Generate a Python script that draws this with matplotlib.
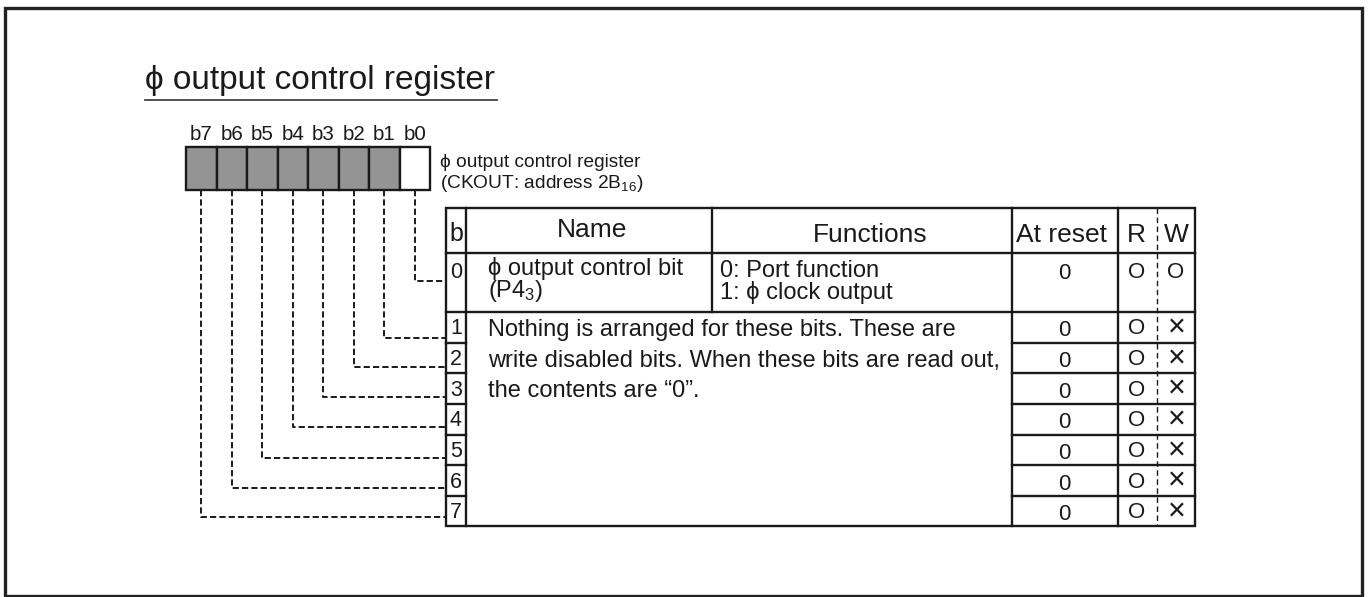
import matplotlib
matplotlib.use("Agg")
import matplotlib.pyplot as plt
from matplotlib.patches import Rectangle

plt.rcParams['font.family'] = ['Liberation Sans', 'DejaVu Sans']
plt.rcParams['mathtext.fontset'] = 'custom'
plt.rcParams['mathtext.rm'] = 'Liberation Sans'
plt.rcParams['mathtext.default'] = 'regular'

# ---- data ----
title = "\u03d5 output control register"
bit_labels = ["b7", "b6", "b5", "b4", "b3", "b2", "b1", "b0"]
bit_used = [False, False, False, False, False, False, False, True]
reg_name = "\u03d5 output control register"
reg_addr = "(CKOUT: address 2B$_{16}$)"
headers = ["b", "Name", "Functions", "At reset", "R", "W"]
row_bits = ["0", "1", "2", "3", "4", "5", "6", "7"]
row0_name = ["\u03d5 output control bit", "(P4$_3$)"]
row0_func = ["0: Port function", "1: \u03d5 clock output"]
reserved_text = ["Nothing is arranged for these bits. These are",
                 "write disabled bits. When these bits are read out,",
                 "the contents are \u201c0\u201d."]
at_reset = ["0", "0", "0", "0", "0", "0", "0", "0"]
read_ok = ["O", "O", "O", "O", "O", "O", "O", "O"]
write_ok = ["O", "\u00d7", "\u00d7", "\u00d7", "\u00d7", "\u00d7", "\u00d7", "\u00d7"]

# ---- layout ----
W, H = 1369, 597
fig = plt.figure(figsize=(W / 100, H / 100), dpi=100)
ax = fig.add_axes([0, 0, 1, 1])
ax.set_xlim(0, W)
ax.set_ylim(H, 0)
ax.axis('off')
TC = '#1a1a1a'

# outer frame
ax.add_patch(Rectangle((5, 8), 1357, 588, fill=False, lw=2.4, ec='#222222', zorder=3))

# title
ax.text(145, 89, title, fontsize=24, ha='left', va='baseline', color=TC)
ax.plot([145, 497], [100, 100], color='#444444', lw=1.3)

# register boxes
bx0, bw, by0, bh = 186, 30.5, 147, 43
for i, (lab, used) in enumerate(zip(bit_labels, bit_used)):
    x = bx0 + i * bw
    ax.add_patch(Rectangle((x, by0), bw, bh, fc='white' if used else '#949494',
                           ec='#1a1a1a', lw=1.7))
    ax.text(x + bw / 2, 140, lab, fontsize=14.8, ha='center', va='baseline', color=TC)

ax.text(440, 167, reg_name, fontsize=13.8, ha='left', va='baseline', color=TC)
ax.text(440, 188, reg_addr, fontsize=13.8, ha='left', va='baseline', color=TC)

# table geometry
cols = [446, 466, 712, 1012, 1118, 1157, 1195]
y_top, y_head, y_r0 = 208, 253, 312
row_y = [312, 343, 373, 404, 435, 465, 496, 526]
lw = 1.7
lc = '#1a1a1a'

ax.add_patch(Rectangle((cols[0], y_top), cols[-1] - cols[0], row_y[-1] - y_top,
                       fill=False, lw=lw, ec=lc))
ax.plot([cols[0], cols[-1]], [y_head, y_head], color=lc, lw=lw)
ax.plot([cols[0], cols[-1]], [y_r0, y_r0], color=lc, lw=lw)
for c in [cols[1], cols[3], cols[4]]:
    ax.plot([c, c], [y_top, row_y[-1]], color=lc, lw=lw)
ax.plot([cols[2], cols[2]], [y_top, y_r0], color=lc, lw=lw)
ax.plot([cols[5], cols[5]], [y_top, row_y[-1]], color=lc, lw=1.0, ls=(0, (4, 2.5)))
for y in row_y[1:-1]:
    ax.plot([cols[0], cols[1]], [y, y], color=lc, lw=lw)
    ax.plot([cols[3], cols[-1]], [y, y], color=lc, lw=lw)

# header text
hx = [(cols[0] + cols[1]) / 2, (cols[1] + cols[2]) / 2 + 3, 870,
      (cols[3] + cols[4]) / 2 - 3, (cols[4] + cols[5]) / 2 - 1, (cols[5] + cols[6]) / 2]
hy = [241, 237, 242, 242, 242, 242]
for x, y, t in zip(hx, hy, headers):
    ax.text(x, y, t, fontsize=19 if t != "b" else 18, ha='center', va='baseline', color=TC)

fs = 17
bfs = 15.5
# row 0
ax.text(hx[0], 278, row_bits[0], fontsize=bfs, ha='center', va='baseline', color=TC)
ax.text(488, 275, row0_name[0], fontsize=fs, ha='left', va='baseline', color=TC)
ax.text(488, 297, row0_name[1], fontsize=fs, ha='left', va='baseline', color=TC)
ax.text(720, 277, row0_func[0], fontsize=fs, ha='left', va='baseline', color=TC)
ax.text(720, 299, row0_func[1], fontsize=fs, ha='left', va='baseline', color=TC)

for k, line in enumerate(reserved_text):
    ax.text(488, 336 + k * 30.5, line, fontsize=fs, ha='left', va='baseline', color=TC)

for i in range(8):
    if i == 0:
        yb = 279
    else:
        yb = (row_y[i - 1] + row_y[i]) / 2 + 8
        ax.text(hx[0], yb - 1, row_bits[i], fontsize=bfs, ha='center', va='baseline', color=TC)
    ax.text(1064, yb + (1 if i > 0 else 0), at_reset[i], fontsize=16, ha='center',
            va='baseline', color=TC)
    ax.text(1137, yb - 1, read_ok[i], fontsize=16, ha='center', va='baseline', color=TC)
    if write_ok[i] == 'O':
        ax.text(1176, yb - 1, write_ok[i], fontsize=16, ha='center', va='baseline', color=TC)
    else:
        ax.text(1177, yb + 1, write_ok[i], fontsize=22, ha='center', va='baseline', color=TC)

# dashed leader lines from bit boxes to rows
leader_y = [281, 338, 367, 397, 427, 458, 488, 517]  # bits 0..7
for bit in range(8):
    i = 7 - bit
    x = bx0 + i * bw + bw / 2
    y = leader_y[bit]
    ax.plot([x, x, cols[0]], [by0 + bh, y, y], color=lc, lw=1.4, ls=(0, (3.2, 1.6)))

fig.savefig("out.png", dpi=100)
